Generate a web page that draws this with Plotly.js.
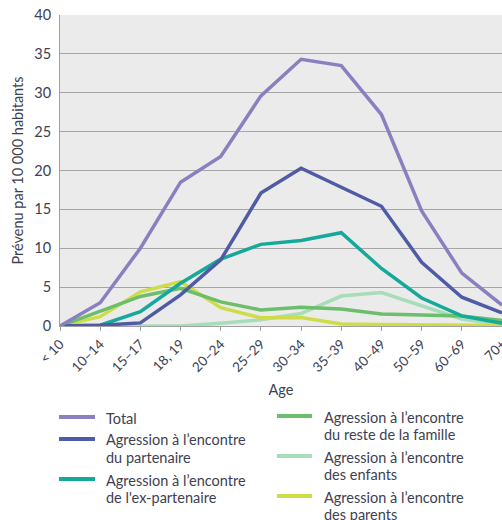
<!DOCTYPE html>
<html>
<head>
<meta charset="utf-8">
<script src="https://cdn.plot.ly/plotly-3.0.1.min.js"></script>
<style>body{margin:0;padding:0;background:#fff;} #chart{width:502px;height:520px;}</style>
</head>
<body>
<div id="chart"></div>
<script>
const ageGroups = ["< 10","10–14","15–17","18, 19","20–24","25–29","30–34","35–39","40–49","50–59","60–69","70+"];
const total      = [0, 3.0, 10.0, 18.5, 21.8, 29.6, 34.3, 33.5, 27.2, 14.8, 6.8, 2.7];
const partenaire = [0, 0.1, 0.4, 4.0, 8.5, 17.1, 20.3, 17.9, 15.4, 8.2, 3.7, 1.7];
const exPartenaire = [0, 0.1, 1.85, 5.5, 8.6, 10.5, 11.0, 12.0, 7.4, 3.6, 1.3, 0.35];
const resteFamille = [0, 1.85, 3.8, 4.85, 3.1, 2.05, 2.4, 2.2, 1.55, 1.4, 1.3, 0.7];
const enfants    = [0, 0, 0, 0, 0.35, 0.8, 1.6, 3.85, 4.3, 2.6, 0.9, 0.2];
const parents    = [0, 1.2, 4.4, 5.7, 2.35, 1.05, 1.1, 0.25, 0.2, 0.15, 0.1, 0.05];
const yTickVals = [0,5,10,15,20,25,30,35,40];
const seriesNames = [
  "Total",
  "Agression à l’encontre<br>du partenaire",
  "Agression à l’encontre<br>de l'ex-partenaire",
  "Agression à l’encontre<br>du reste de la famille",
  "Agression à l’encontre<br>des enfants",
  "Agression à l’encontre<br>des parents"
];
const seriesColors = ["#8A80C0","#4F5BA5","#14A99A","#6CBE6A","#A7DDB8","#CEDD47"];
const seriesData = [total, partenaire, exPartenaire, resteFamille, enfants, parents];

const textColor = "#3d4152";
const FONT = "Lato, 'Open Sans', sans-serif";

// draw order: background ones first, total last
const drawOrder = [4, 5, 3, 2, 1, 0];
const traces = drawOrder.map(i => ({
  type: "scatter", mode: "lines",
  x: ageGroups, y: seriesData[i],
  name: seriesNames[i],
  line: {color: seriesColors[i], width: 3.5},
  showlegend: false, hoverinfo: "skip"
}));

// custom two-column legend
const plotTop = 15, plotBottom = 326, plotLeft = 60, plotRight = 502;
const py = p => (plotBottom - p) / (plotBottom - plotTop);
const px = p => (p - plotLeft) / (plotRight - plotLeft);
const legendPos = [
  {lx0: 59, lx1: 95, tx: 104, ly: 417},
  {lx0: 59, lx1: 95, tx: 104, ly: 439},
  {lx0: 59, lx1: 95, tx: 104, ly: 479},
  {lx0: 277, lx1: 312, tx: 322, ly: 416},
  {lx0: 277, lx1: 312, tx: 322, ly: 456},
  {lx0: 277, lx1: 312, tx: 322, ly: 496}
];
const shapes = [];
const annotations = [];
seriesNames.forEach((nm, i) => {
  const p = legendPos[i];
  shapes.push({type: "line", xref: "paper", yref: "paper",
    x0: px(p.lx0), x1: px(p.lx1), y0: py(p.ly), y1: py(p.ly),
    line: {color: seriesColors[i], width: 4}});
  nm.split("<br>").forEach((ln, k) => {
    annotations.push({xref: "paper", yref: "paper", x: px(p.tx), y: py(p.ly + 1 + k * 17.5),
      xanchor: "left", yanchor: "middle", showarrow: false, text: ln,
      font: {family: FONT, size: 14.5, color: textColor}});
  });
});

const layout = {
  width: 502, height: 520,
  margin: {l: plotLeft, r: 502 - plotRight, t: plotTop, b: 520 - plotBottom},
  paper_bgcolor: "#ffffff", plot_bgcolor: "#EBEBEB",
  font: {family: FONT, color: textColor, size: 14},
  xaxis: {
    type: "category", range: [0, 11],
    tickangle: -45, tickfont: {size: 13.5, color: textColor},
    ticks: "outside", ticklen: 4, tickcolor: "#a0a0a0",
    showgrid: false, showline: true, linecolor: "#a0a0a0", linewidth: 1,
    zeroline: false,
    title: {text: "Age", font: {size: 14.5, color: textColor}, standoff: 10},
    automargin: false
  },
  yaxis: {
    range: [0, 40], tickvals: yTickVals, ticks: "",
    tickfont: {size: 14.5, color: textColor},
    ticklabelstandoff: 5,
    showgrid: true, gridcolor: "#a6a6a6", gridwidth: 1,
    showline: true, linecolor: "#a0a0a0", linewidth: 1,
    zeroline: false,
    title: {text: "Prévenu par 10 000 habitants", font: {size: 14.5, color: textColor}, standoff: 7},
    automargin: false
  },
  shapes: shapes,
  annotations: annotations
};

Plotly.newPlot("chart", traces, layout, {displayModeBar: false, staticPlot: true});
</script>
</body>
</html>
